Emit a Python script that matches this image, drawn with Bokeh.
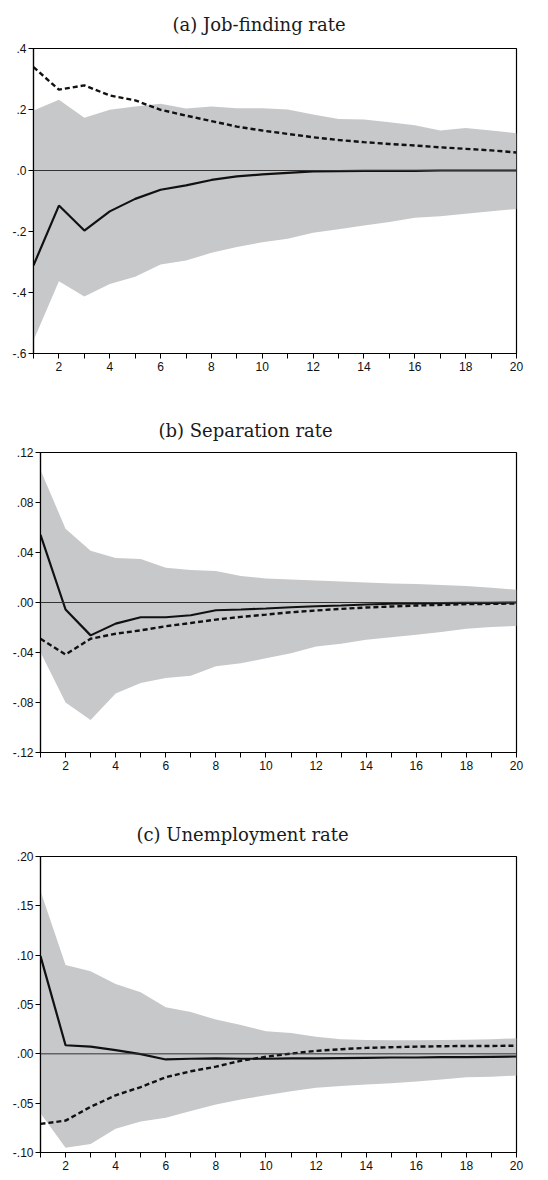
from bokeh.plotting import figure
from bokeh.models import FixedTicker, CustomJSTickFormatter, Span, Range1d
from bokeh.embed import file_html
from bokeh.resources import INLINE

periods = list(range(1, 21))

# (a) Job-finding rate
a_upper = [0.197, 0.232, 0.173, 0.199, 0.210, 0.219, 0.203, 0.210, 0.204, 0.204,
           0.200, 0.184, 0.169, 0.167, 0.158, 0.148, 0.131, 0.139, 0.131, 0.122]
a_lower = [-0.557, -0.363, -0.413, -0.372, -0.348, -0.308, -0.295, -0.270, -0.251, -0.235,
           -0.224, -0.204, -0.193, -0.180, -0.169, -0.155, -0.150, -0.142, -0.134, -0.126]
a_solid = [-0.311, -0.115, -0.197, -0.134, -0.093, -0.063, -0.049, -0.031, -0.019, -0.013,
           -0.008, -0.003, -0.002, -0.001, -0.001, -0.001, 0.0, 0.0, 0.0, 0.0]
a_dashed = [0.339, 0.265, 0.279, 0.246, 0.230, 0.199, 0.180, 0.162, 0.144, 0.131,
            0.120, 0.109, 0.100, 0.093, 0.087, 0.082, 0.076, 0.071, 0.066, 0.059]

# (b) Separation rate
b_upper = [0.106, 0.059, 0.0415, 0.0356, 0.0348, 0.0279, 0.026, 0.0252, 0.0212, 0.0193,
           0.0185, 0.0177, 0.0169, 0.0161, 0.0153, 0.0148, 0.014, 0.0132, 0.0118, 0.0102]
b_lower = [-0.0397, -0.080, -0.094, -0.0728, -0.0644, -0.0604, -0.0585, -0.051, -0.0486, -0.0446,
           -0.0405, -0.0352, -0.033, -0.0298, -0.0277, -0.0258, -0.0236, -0.0209, -0.0196, -0.0188]
b_solid = [0.0542, -0.0056, -0.0263, -0.0169, -0.0118, -0.0118, -0.0102, -0.0062, -0.0056, -0.0048,
           -0.0038, -0.003, -0.0024, -0.0016, -0.001, -0.0008, -0.0005, -0.0003, -0.0003, 0.0]
b_dashed = [-0.029, -0.0416, -0.029, -0.025, -0.0223, -0.019, -0.0164, -0.0137, -0.0115, -0.0097,
            -0.0078, -0.0064, -0.0051, -0.004, -0.0032, -0.0024, -0.0019, -0.0013, -0.0011, -0.0008]

# (c) Unemployment rate
c_upper = [0.165, 0.090, 0.0837, 0.0707, 0.0623, 0.0473, 0.0423, 0.0347, 0.0293, 0.023,
           0.021, 0.0173, 0.0147, 0.014, 0.0137, 0.0137, 0.014, 0.0143, 0.0147, 0.0157]
c_lower = [-0.0603, -0.0953, -0.0913, -0.076, -0.0687, -0.0647, -0.058, -0.0513, -0.0463, -0.042,
           -0.038, -0.0343, -0.0327, -0.031, -0.0297, -0.028, -0.026, -0.0237, -0.0233, -0.022]
c_solid = [0.099, 0.0087, 0.0073, 0.0037, -0.0003, -0.0057, -0.005, -0.0047, -0.005, -0.005,
           -0.0047, -0.0047, -0.0043, -0.004, -0.0037, -0.0037, -0.0033, -0.0033, -0.003, -0.0027]
c_dashed = [-0.071, -0.0677, -0.0537, -0.042, -0.0337, -0.0237, -0.0177, -0.013, -0.007, -0.003,
            0.0003, 0.003, 0.0047, 0.006, 0.0067, 0.0073, 0.0077, 0.008, 0.008, 0.0083]

titles = ["(a) Job-finding rate", "(b) Separation rate", "(c) Unemployment rate"]
y_ticks_a = [-0.6, -0.4, -0.2, 0.0, 0.2, 0.4]
y_ticks_b = [-0.12, -0.08, -0.04, 0.0, 0.04, 0.08, 0.12]
y_ticks_c = [-0.10, -0.05, 0.0, 0.05, 0.10, 0.15, 0.20]
x_major = [2, 4, 6, 8, 10, 12, 14, 16, 18, 20]
x_minor = [1, 3, 5, 7, 9, 11, 13, 15, 17, 19]

BAND = "#c7c8ca"


def panel(title, upper, lower, solid, dashed, yticks, decimals,
          frame_w, frame_h, left, top, bottom, title_offset, standoff):
    p = figure(width=frame_w + left + 12, height=frame_h + top + bottom,
               frame_width=frame_w, frame_height=frame_h,
               x_range=Range1d(1, 20), y_range=Range1d(yticks[0], yticks[-1]),
               output_backend="svg", toolbar_location=None,
               min_border_left=left, min_border_right=12,
               min_border_top=top, min_border_bottom=bottom)
    p.title.text = title
    p.title.text_font = "DejaVu Serif"
    p.title.text_font_size = "18px"
    p.title.text_font_style = "normal"
    p.title.text_color = "#1a1a1a"
    p.title.align = "left"
    p.title.vertical_align = "top"
    p.title.offset = title_offset
    p.title.standoff = standoff
    p.background_fill_color = "white"
    p.border_fill_color = "white"
    p.outline_line_color = "black"
    p.outline_line_width = 1.2
    p.xgrid.visible = False
    p.ygrid.visible = False

    p.varea(x=periods, y1=lower, y2=upper, fill_color=BAND, fill_alpha=1.0)
    p.add_layout(Span(location=0, dimension="width", line_color="#333333", line_width=1))
    p.line(periods, dashed, line_color="#111111", line_width=2.4, line_dash="5 3")
    p.line(periods, solid, line_color="#111111", line_width=2.2)

    xa = p.xaxis[0]
    xa.ticker = FixedTicker(ticks=x_major, minor_ticks=x_minor)
    xa.major_tick_out = 5
    xa.major_tick_in = 0
    xa.minor_tick_out = 5
    xa.minor_tick_in = 0
    xa.major_label_standoff = 3
    ya = p.yaxis[0]
    ya.ticker = FixedTicker(ticks=yticks, minor_ticks=[])
    ya.major_tick_out = 5
    ya.major_tick_in = 0
    ya.minor_tick_out = 0
    ya.minor_tick_in = 0
    ya.major_label_standoff = 2
    ya.formatter = CustomJSTickFormatter(code="""
        var s = (Math.abs(tick) < 1e-9 ? 0 : tick).toFixed(%d);
        return s.replace(/^(-?)0\\./, "$1.");
    """ % decimals)
    for ax in (xa, ya):
        ax.axis_line_color = "black"
        ax.axis_line_width = 1.2
        ax.major_tick_line_color = "black"
        ax.minor_tick_line_color = "black"
        ax.major_label_text_font = "Liberation Sans"
        ax.major_label_text_font_size = "12px"
        ax.major_label_text_color = "#111111"
    return p


pa = panel(titles[0], a_upper, a_lower, a_solid, a_dashed, y_ticks_a, 1,
           483, 305, 33, 48, 55, 139, 24)
pb = panel(titles[1], b_upper, b_lower, b_solid, b_dashed, y_ticks_b, 2,
           476, 300, 40, 44, 60, 118, 20)
pc = panel(titles[2], c_upper, c_lower, c_solid, c_dashed, y_ticks_c, 2,
           476, 296, 40, 44, 20, 96, 20)

open("out.html", "w").write(file_html([pa, pb, pc], INLINE))
